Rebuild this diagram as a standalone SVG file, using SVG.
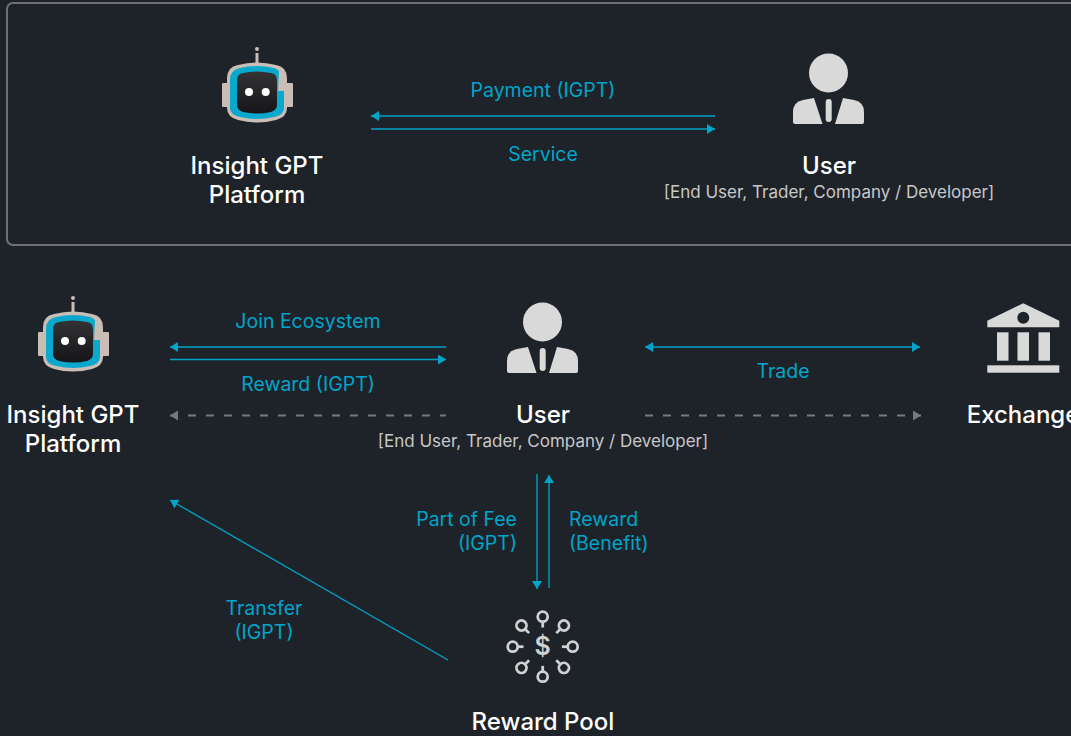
<svg xmlns="http://www.w3.org/2000/svg" width="1071" height="736" viewBox="0 0 1071 736">
<style>
text{font-family:Inter,"Liberation Sans",sans-serif;text-anchor:middle}
.t{font-size:24px;font-weight:500;fill:#fff}
.l{font-size:19.500px;fill:#00a5c9}
.s{font-size:17px;fill:#c8c8c8}
.c{fill:none;stroke:#00a5c9;stroke-width:1.300}
.d{fill:none;stroke:#77797c;stroke-width:2;stroke-dasharray:8 10}
.g{fill:#d9d9d9}
.o{fill:none;stroke:#d0d0d0;stroke-width:2.800}
</style>
<defs>
<marker id="a" markerUnits="userSpaceOnUse" markerWidth="10" markerHeight="10" refX="9" refY="5" orient="auto-start-reverse"><path d="M1 0L9 5L1 10Z" fill="#00a5c9"/></marker>
<marker id="b" markerUnits="userSpaceOnUse" markerWidth="10" markerHeight="10" refX="9" refY="5" orient="auto-start-reverse"><path d="M1 0L9 5L1 10Z" fill="#77797c"/></marker>
<linearGradient id="sc" x1="0" y1="0" x2="0" y2="1"><stop offset="0" stop-color="#333335"/><stop offset="1" stop-color="#151517"/></linearGradient>
<g id="robot">
<rect x="255.500" y="53" width="3" height="10" fill="#c9bdb6"/><circle cx="257" cy="49" r="2" fill="#c9bdb6"/>
<rect x="222" y="83" width="8" height="24" rx="1" fill="#c9bdb6"/><rect x="285" y="83" width="8" height="24" rx="1" fill="#c9bdb6"/>
<path d="M227 78Q227 67 238 65Q257 60 276 65Q287 67 287 78V108Q287 117 276 120Q257 125 238 120Q227 117 227 108Z" fill="#c9bdb6"/>
<path d="M230 80Q230 70 240 68Q257 64 274 68Q277 69 279 71L278 91H284V108Q284 115 274 117Q257 121 240 117Q230 115 230 108Z" fill="#0aa8cc"/>
<path d="M237 80Q237 74 243 73Q257 70 271 73Q277 74 277 80V105Q277 110 271 112Q257 115 243 112Q237 110 237 105Z" fill="url(#sc)"/>
<circle cx="249" cy="92" r="4" fill="#fff"/><circle cx="265.700" cy="92" r="4" fill="#fff"/>
</g>
<g id="user">
<circle cx="828.500" cy="73" r="19.500" class="g"/>
<path d="M795 124Q793 124 793 122V112Q793 102 803 100L814 98L822.500 124Z" class="g"/>
<path d="M862 124Q864 124 864 122V112Q864 102 854 100L843 98L835 124Z" class="g"/>
<rect x="825.700" y="99" width="6" height="23" rx="3" class="g"/>
</g>
</defs>
<rect width="1071" height="736" fill="#1e2229"/>
<rect x="7" y="3" width="1090" height="242" rx="6" fill="none" stroke="#6e7073" stroke-width="2"/>
<g id="connectors">
<path class="c" marker-start="url(#a)" d="M371 116H715"/>
<path class="c" marker-end="url(#a)" d="M371 129H715"/>
<path class="c" marker-start="url(#a)" d="M170 347H446"/>
<path class="c" marker-end="url(#a)" d="M170 359.500H446"/>
<path class="d" marker-start="url(#b)" d="M170 415.500H446"/>
<path class="c" marker-start="url(#a)" marker-end="url(#a)" d="M645 347H920"/>
<path class="d" marker-end="url(#b)" d="M645 415.500H921"/>
<path class="c" marker-end="url(#a)" d="M537 474V589"/>
<path class="c" marker-end="url(#a)" d="M549 588V475"/>
<path class="c" marker-end="url(#a)" d="M448 660L170 500"/>
</g>
<g id="labels">
<text class="l" x="543" y="97">Payment (IGPT)</text>
<text class="l" x="543" y="161">Service</text>
<text class="l" x="308" y="328">Join Ecosystem</text>
<text class="l" x="308" y="391">Reward (IGPT)</text>
<text class="l" x="783" y="378">Trade</text>
<text class="l" x="517" y="526" style="text-anchor:end">Part of Fee</text>
<text class="l" x="517" y="550" style="text-anchor:end">(IGPT)</text>
<text class="l" x="569" y="526" style="text-anchor:start">Reward</text>
<text class="l" x="569" y="550" style="text-anchor:start">(Benefit)</text>
<text class="l" x="264" y="615">Transfer</text>
<text class="l" x="264" y="639">(IGPT)</text>
</g>
<g id="platform-top">
<use href="#robot"/>
<text class="t" x="257" y="173.500">Insight GPT</text>
<text class="t" x="257" y="203">Platform</text>
</g>
<g id="user-top">
<use href="#user"/>
<text class="t" x="829" y="173.500">User</text>
<text class="s" x="829" y="197.500">[End User, Trader, Company / Developer]</text>
</g>
<g id="platform-bottom">
<use href="#robot" x="-184" y="249"/>
<text class="t" x="73" y="422.500">Insight GPT</text>
<text class="t" x="73" y="452">Platform</text>
</g>
<g id="user-bottom">
<use href="#user" x="-286" y="249"/>
<text class="t" x="543" y="422.500">User</text>
<text class="s" x="543" y="446.500">[End User, Trader, Company / Developer]</text>
</g>
<g id="exchange">
<path class="g" d="M1023.300 303.300L1059.300 320.700V327.300H987.300V320.700Z"/>
<circle cx="1023.300" cy="317.700" r="6" fill="#1e2229"/>
<rect class="g" x="997" y="332.300" width="11.500" height="28.400"/>
<rect class="g" x="1017.500" y="332.300" width="11.500" height="28.400"/>
<rect class="g" x="1038.500" y="332.300" width="11.500" height="28.400"/>
<rect class="g" x="987.300" y="365.300" width="72" height="7.400"/>
<text class="t" x="1023" y="422.500">Exchange</text>
</g>
<g id="reward-pool">
<g id="ray"><circle class="o" cx="542.700" cy="616.700" r="5"/><path class="o" d="M542.700 621.700V627.500"/></g>
<use href="#ray" transform="rotate(45 542.700 646.700)"/>
<use href="#ray" transform="rotate(90 542.700 646.700)"/>
<use href="#ray" transform="rotate(135 542.700 646.700)"/>
<use href="#ray" transform="rotate(180 542.700 646.700)"/>
<use href="#ray" transform="rotate(225 542.700 646.700)"/>
<use href="#ray" transform="rotate(270 542.700 646.700)"/>
<use href="#ray" transform="rotate(315 542.700 646.700)"/>
<text x="542.700" y="655" style="font-size:25px;font-weight:600;fill:#d0d0d0">$</text>
<text class="t" x="543" y="730">Reward Pool</text>
</g>
</svg>
